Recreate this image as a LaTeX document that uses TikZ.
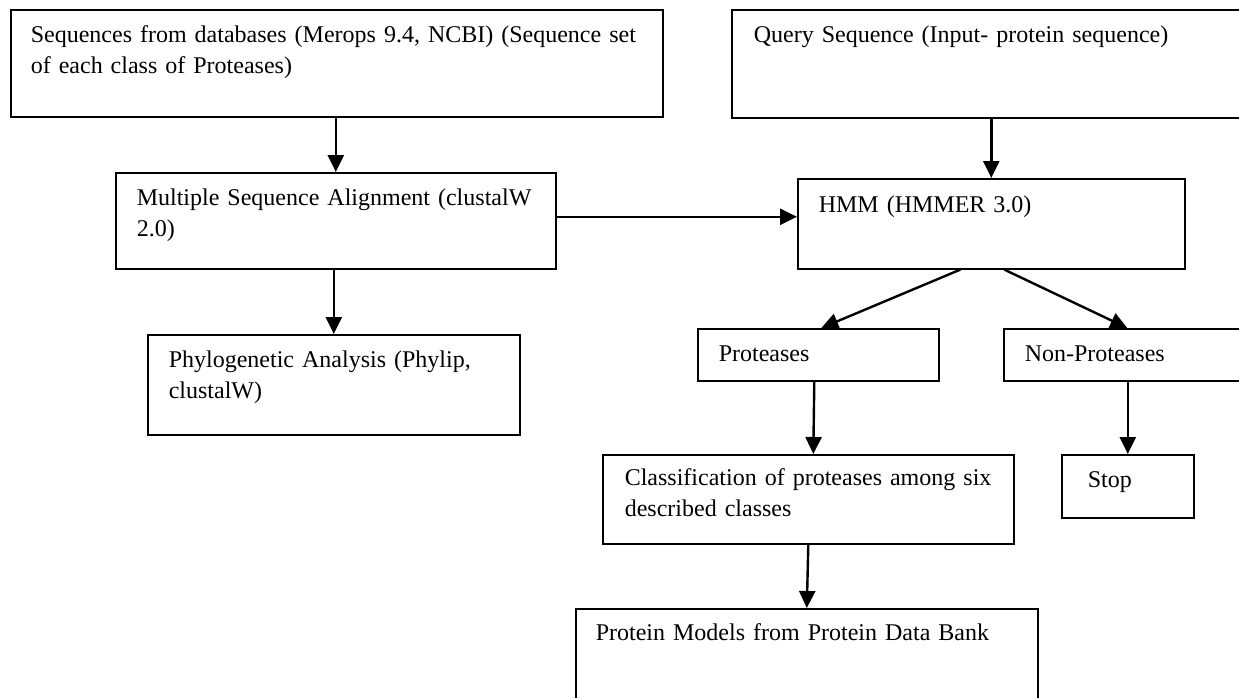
\documentclass[tikz,border=0pt]{standalone}
\usepackage{fontspec}
\setmainfont{Liberation Serif}
\usetikzlibrary{arrows.meta}

\tikzset{
  stage/.style={draw, line width=1.6pt, anchor=north west, inner ysep=0pt,
    inner xsep=21pt, align=left, font=\fontsize{24}{31}\selectfont},
  flow/.style={line width=2.4pt, -{Triangle[length=17pt,width=16pt]}}
}

\begin{document}
\begin{tikzpicture}[x=1pt, y=-1pt]
\useasboundingbox (0,0) rectangle (1239,697);

% databases and query
\node[stage, inner xsep=20pt, text width=612pt, text height=33pt, text depth=74pt] (src) at (10,9)
  {\makebox[\linewidth][s]{Sequences from databases (Merops 9.4, NCBI) (Sequence set}\\of each class of Proteases)};
\node[stage, inner xsep=22pt, text width=475pt, text height=33pt, text depth=75pt] (query) at (731,9)
  {Query Sequence (Input- protein sequence)};

% alignment and model
\node[stage, text width=398pt, text height=33pt, text depth=63pt] (msa) at (115,172)
  {Multiple Sequence Alignment (clustalW\\2.0)};
\node[stage, text width=345pt, text height=34pt, text depth=56pt] (hmm) at (797,178)
  {HMM (HMMER 3.0)};
\node[stage, text width=330pt, text height=33pt, text depth=67pt] (phylo) at (147,334)
  {Phylogenetic Analysis (Phylip,\\clustalW)};

% result of the search
\node[stage, text width=199pt, text height=33pt, text depth=19pt] (prot) at (697,328) {Proteases};
\node[stage, text width=205pt, text height=33pt, text depth=19pt] (nonprot) at (1003,328) {Non-Proteases};
\node[stage, inner xsep=22pt, text width=367pt, text height=31pt, text depth=58pt] (classif) at (602,454)
  {\makebox[\linewidth][s]{Classification of proteases among six}\\described classes};
\node[stage, inner xsep=26pt, text width=80pt, text height=33pt, text depth=30pt] (stop) at (1061,454) {Stop};
\node[stage, inner xsep=20pt, text width=422pt, text height=32pt, text depth=100pt] (pdb) at (575,608)
  {Protein Models from Protein Data Bank};

% connectors
\draw[flow] (src.south -| msa.north) -- (msa.north);
\draw[flow] (query.south -| hmm.north) -- (hmm.north);
\draw[flow] ([yshift=4pt]msa.east) -- ([yshift=4pt]msa.east -| hmm.west);
\draw[flow] (msa.south -| phylo.north) -- (phylo.north);
\draw[flow] ([xshift=-31pt]hmm.south) -- ([xshift=3pt]prot.north);
\draw[flow] ([xshift=13pt]hmm.south) -- (nonprot.north);
\draw[flow] ([xshift=-4pt]prot.south) -- ([xshift=5pt]classif.north);
\draw[flow] (nonprot.south -| stop.north) -- (stop.north);
\draw[flow] (classif.south) -- (pdb.north);

\end{tikzpicture}
\end{document}
